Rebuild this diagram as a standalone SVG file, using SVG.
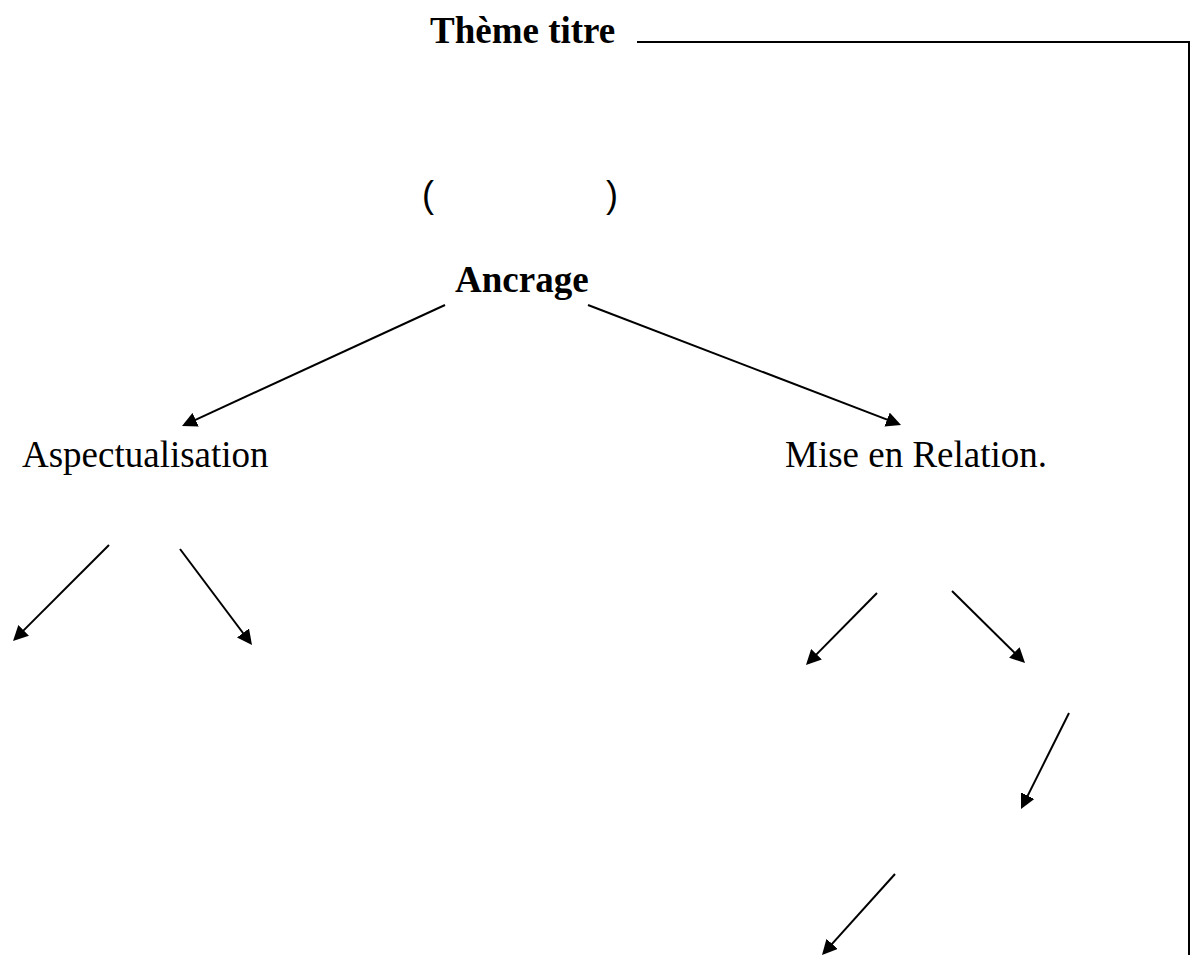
<svg xmlns="http://www.w3.org/2000/svg" width="1195" height="955" viewBox="0 0 1195 955">
  <defs>
    <marker id="arrow" markerUnits="userSpaceOnUse" markerWidth="15" markerHeight="15" refX="5" refY="7.5" orient="auto">
      <path d="M0,0 L15,7.5 L0,15 Z" fill="#000"/>
    </marker>
    <style>
      .lbl { font-family: "Liberation Serif", "Times New Roman", serif; font-size: 37px; fill: #000; }
      .bold { font-weight: bold; }
      .paren { font-family: "Liberation Sans", Arial, sans-serif; font-size: 36px; fill: #000; }
      .edge { stroke: #000; stroke-width: 2; fill: none; marker-end: url(#arrow); }
      .frame { stroke: #000; stroke-width: 2; fill: none; }
    </style>
  </defs>
  <rect width="1195" height="955" fill="#fff"/>

  <!-- title with its frame line -->
  <g id="title">
    <text class="lbl bold" x="430" y="43">Thème titre</text>
    <polyline class="frame" points="637,42 1189,42 1189,955"/>
  </g>

  <g id="brackets">
    <text class="paren" x="422" y="207">(</text>
    <text class="paren" x="606" y="207">)</text>
  </g>

  <g id="ancrage">
    <text class="lbl bold" x="455" y="292">Ancrage</text>
  </g>

  <g id="aspectualisation">
    <text class="lbl" x="22" y="467">Aspectualisation</text>
  </g>

  <g id="mise-en-relation">
    <text class="lbl" x="785" y="467">Mise en Relation.</text>
  </g>

  <!-- connectors -->
  <g id="connectors">
    <line class="edge" x1="445" y1="305" x2="191.1" y2="421.8"/>
    <line class="edge" x1="588" y1="305" x2="891.7" y2="421.4"/>
    <line class="edge" x1="109" y1="545" x2="20.1" y2="633.9"/>
    <line class="edge" x1="180" y1="549" x2="246" y2="637"/>
    <line class="edge" x1="877" y1="593" x2="813" y2="657.9"/>
    <line class="edge" x1="952" y1="591" x2="1017.9" y2="656"/>
    <line class="edge" x1="1069" y1="713" x2="1025.5" y2="800.1"/>
    <line class="edge" x1="895" y1="874" x2="828.7" y2="947.6"/>
  </g>
</svg>
